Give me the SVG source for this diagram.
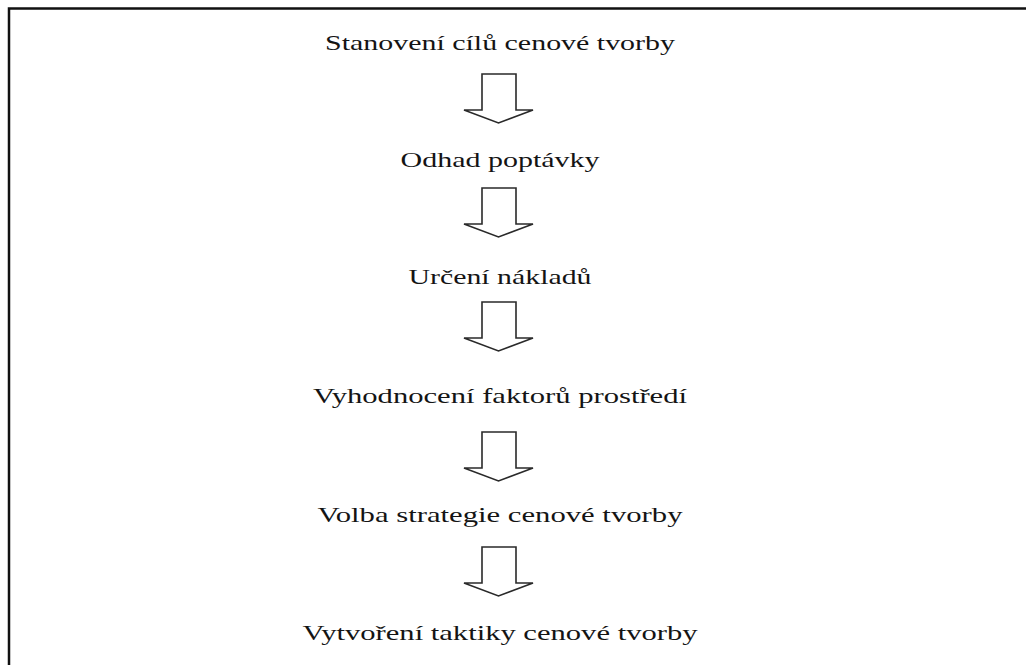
<svg xmlns="http://www.w3.org/2000/svg" width="1026" height="665" viewBox="0 0 1026 665">
<style>
.t{font-family:"Liberation Serif","Times New Roman",serif;font-size:22px;fill:#141414;text-anchor:middle}
.a{fill:#fff;stroke:#2a2a2a;stroke-width:1.6;stroke-linejoin:miter}
.b{fill:none;stroke:#111;stroke-width:2.5}
</style>
<defs>
<path id="arr" class="a" d="M482,0 H516 V36 H533 L498.5,49 L464,36 H482 Z"/>
</defs>
<rect width="1026" height="665" fill="#fff"/>
<path class="b" d="M9,665 V8.5 H1026"/>
<g id="n1"><text class="t" x="500" y="50" textLength="350" lengthAdjust="spacingAndGlyphs">Stanovení cílů cenové tvorby</text></g>
<g id="n2"><text class="t" x="500" y="167" textLength="199" lengthAdjust="spacingAndGlyphs">Odhad poptávky</text></g>
<g id="n3"><text class="t" x="500" y="284" textLength="183" lengthAdjust="spacingAndGlyphs">Určení nákladů</text></g>
<g id="n4"><text class="t" x="500" y="403" textLength="374" lengthAdjust="spacingAndGlyphs">Vyhodnocení faktorů prostředí</text></g>
<g id="n5"><text class="t" x="500" y="522" textLength="365" lengthAdjust="spacingAndGlyphs">Volba strategie cenové tvorby</text></g>
<g id="n6"><text class="t" x="500" y="640" textLength="395" lengthAdjust="spacingAndGlyphs">Vytvoření taktiky cenové tvorby</text></g>
<g id="connectors">
<use href="#arr" y="74"/>
<use href="#arr" y="188"/>
<use href="#arr" y="302"/>
<use href="#arr" y="432"/>
<use href="#arr" y="547"/>
</g>
</svg>
